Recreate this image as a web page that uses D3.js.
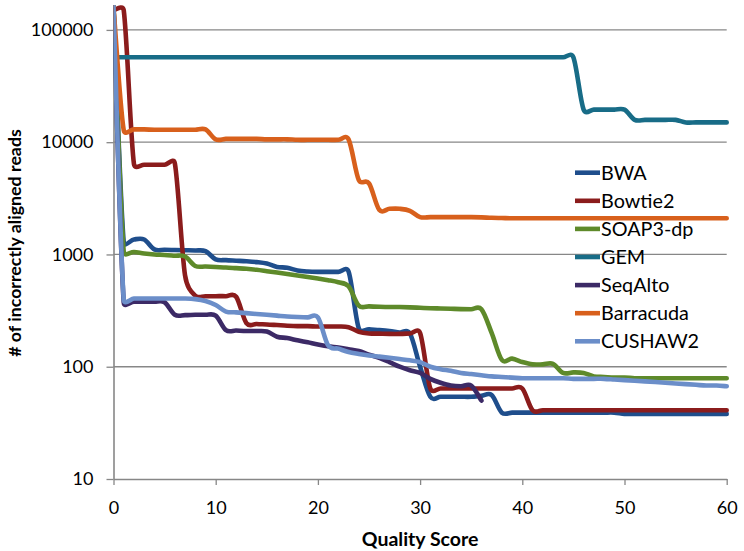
<!DOCTYPE html>
<html>
<head>
<meta charset="utf-8">
<script src="https://cdn.jsdelivr.net/npm/d3@7"></script>
<style>
  html, body { margin: 0; padding: 0; background: #fff; }
  svg { display: block; font-family: Lato, "Open Sans", sans-serif; }
</style>
</head>
<body>
<svg id="chart" width="744" height="551"></svg>
<script>
// ---- data ----
const qualityScores = d3.range(0, 61);
const seriesNames = ["BWA", "Bowtie2", "SOAP3-dp", "GEM", "SeqAlto", "Barracuda", "CUSHAW2"];
const seriesColors = ["#1f4e8c", "#8b1c1c", "#5e8a2a", "#186c87", "#3c2a66", "#d8601c", "#6b8ec9"];

const bwa = [160000, 1290, 1360, 1360, 1110, 1100, 1095, 1090, 1085, 1070,
  905, 890, 880, 870, 855, 830, 775, 760, 720, 705,
  700, 700, 700, 705, 220, 215, 212, 208, 202, 198,
  100, 54, 54, 54, 54, 54, 55, 56, 39, 39,
  39, 39, 39, 39, 39, 39, 39, 39, 39, 39,
  38, 38, 38, 38, 38, 38, 38, 38, 38, 38, 38];
const bowtie2 = [150000, 150000, 6400, 6300, 6300, 6300, 6500, 650, 430, 425,
  425, 425, 420, 245, 240, 238, 235, 232, 230, 230,
  228, 228, 228, 225, 205, 198, 197, 196, 196, 198,
  200, 64, 64, 64, 64, 64, 64, 64, 64, 64,
  64, 41, 41, 41, 41, 41, 41, 41, 41, 41,
  41, 41, 41, 41, 41, 41, 41, 41, 41, 41, 41];
const soap3dp = [160000, 1060, 1050, 1020, 1000, 990, 975, 960, 790, 780,
  772, 765, 755, 745, 730, 710, 690, 670, 650, 630,
  610, 590, 565, 520, 350, 345, 342, 340, 340, 338,
  335, 332, 330, 328, 326, 325, 325, 200, 115, 118,
  110, 105, 105, 106, 88, 89, 88, 82, 81, 80,
  80, 79, 79, 79, 79, 79, 79, 79, 79, 79, 79];
const gem = [57000, 57000, 57000, 57000, 57000, 57000, 57000, 57000, 57000, 57000,
  57000, 57000, 57000, 57000, 57000, 57000, 57000, 57000, 57000, 57000,
  57000, 57000, 57000, 57000, 57000, 57000, 57000, 57000, 57000, 57000,
  57000, 57000, 57000, 57000, 57000, 57000, 57000, 57000, 57000, 57000,
  57000, 57000, 57000, 57000, 57000, 57000, 19500, 19500, 19500, 19500,
  19500, 15800, 15800, 15800, 15800, 15800, 15000, 15000, 15000, 15000, 15000];
const seqAlto = [160000, 375, 380, 380, 380, 375, 290, 288, 290, 290,
  285, 212, 210, 208, 208, 206, 185, 180, 172, 165,
  158, 152, 148, 143, 138, 128, 120, 110, 100, 93,
  88, 78, 72, 68, 67, 68, 50];
const barracuda = [160000, 12800, 13000, 13000, 12900, 12900, 12900, 12900, 12900, 13000,
  10600, 10700, 10700, 10700, 10700, 10600, 10600, 10600, 10500, 10500,
  10500, 10500, 10500, 10600, 4600, 4300, 2500, 2550, 2550, 2450,
  2150, 2150, 2150, 2150, 2150, 2150, 2140, 2120, 2110, 2100,
  2100, 2100, 2100, 2100, 2100, 2100, 2100, 2100, 2100, 2100,
  2100, 2100, 2100, 2100, 2100, 2100, 2100, 2100, 2100, 2100, 2100];
const cushaw2 = [160000, 395, 405, 405, 405, 405, 405, 405, 400, 385,
  355, 310, 305, 300, 295, 290, 285, 280, 277, 275,
  275, 155, 145, 135, 130, 126, 123, 120, 117, 114,
  110, 100, 95, 92, 88, 86, 84, 82, 81, 80,
  79, 79, 79, 79, 79, 78, 78, 78, 78, 77,
  76, 75, 74, 73, 72, 71, 70, 69, 68, 68, 67];

const seriesValues = [bwa, bowtie2, soap3dp, gem, seqAlto, barracuda, cushaw2];
const yTicks = [10, 100, 1000, 10000, 100000];
const xTicks = [0, 10, 20, 30, 40, 50, 60];
const xTitle = "Quality Score";
const yTitle = "# of incorrectly aligned reads";

// ---- layout ----
const svg = d3.select("#chart");
const x = d3.scaleLinear().domain([0, 60]).range([113.5, 726.7]);
const y = d3.scaleLog().domain([10, 160000]).range([479, 7]);
const gridColor = "#878787";

svg.append("defs").append("clipPath").attr("id", "plotclip")
  .append("rect").attr("x", x(0)).attr("y", y(160000) - 2)
  .attr("width", x(60) - x(0) + 4).attr("height", y(10) - y(160000) + 2);

// gridlines
svg.append("g").selectAll("line")
  .data(yTicks.filter(d => d > 10))
  .join("line")
  .attr("x1", x(0)).attr("x2", x(60))
  .attr("y1", d => y(d)).attr("y2", d => y(d))
  .attr("stroke", gridColor).attr("stroke-width", 1.3);

// axes
const yAxis = d3.axisLeft(y).tickValues(yTicks).tickFormat(d3.format("d"))
  .tickSize(7).tickSizeOuter(0).tickPadding(13);
const gy = svg.append("g").attr("transform", `translate(${x(0)},0)`).call(yAxis);
const xAxis = d3.axisBottom(x).tickValues(xTicks).tickFormat(d3.format("d"))
  .tickSize(6).tickSizeOuter(0).tickPadding(16);
const gx = svg.append("g").attr("transform", `translate(0,${y(10)})`).call(xAxis);
[gx, gy].forEach(g => {
  g.select(".domain").attr("stroke", gridColor).attr("stroke-width", 1.6);
  g.selectAll(".tick line").attr("stroke", gridColor).attr("stroke-width", 1.3);
  g.selectAll(".tick text").attr("fill", "#000").style("font-size", "18px")
    .style("font-family", "Lato, sans-serif");
});

// smoothed line (Catmull-Rom style, control handles limited by segment length)
function smoothPath(values) {
  const p = values.map((v, i) => [x(qualityScores[i]), y(v)]);
  const n = p.length;
  const tan = p.map((pt, i) => {
    const a = p[Math.max(0, i - 1)], b = p[Math.min(n - 1, i + 1)];
    return [(b[0] - a[0]) / 6, (b[1] - a[1]) / 6];
  });
  const limit = (v, len) => {
    const l = Math.hypot(v[0], v[1]);
    const m = 0.6 * len;
    return l > m && l > 0 ? [v[0] * m / l, v[1] * m / l] : v;
  };
  const path = d3.path();
  path.moveTo(p[0][0], p[0][1]);
  for (let i = 0; i < n - 1; i++) {
    const a = p[i], b = p[i + 1];
    const len = Math.hypot(b[0] - a[0], b[1] - a[1]);
    const c1 = limit(tan[i], len), c2 = limit(tan[i + 1], len);
    path.bezierCurveTo(a[0] + c1[0], a[1] + c1[1], b[0] - c2[0], b[1] - c2[1], b[0], b[1]);
  }
  return path.toString();
}

svg.append("g").attr("clip-path", "url(#plotclip)")
  .selectAll("path")
  .data(seriesValues)
  .join("path")
  .attr("d", d => smoothPath(d))
  .attr("fill", "none")
  .attr("stroke", (d, i) => seriesColors[i])
  .attr("stroke-width", 4.6)
  .attr("stroke-linejoin", "round")
  .attr("stroke-linecap", "round");

// legend
const legend = svg.append("g");
const legendY0 = 172.7, legendStep = 28.1;
seriesNames.forEach((name, i) => {
  const ly = legendY0 + i * legendStep;
  legend.append("line")
    .attr("x1", 575).attr("x2", 600).attr("y1", ly).attr("y2", ly)
    .attr("stroke", seriesColors[i]).attr("stroke-width", 4.6);
  legend.append("text")
    .attr("x", 601).attr("y", ly).attr("dy", "0.36em")
    .style("font-size", "19.8px").attr("fill", "#000")
    .text(name);
});

// axis titles
svg.append("text")
  .attr("x", x(30)).attr("y", 539).attr("dy", "0.36em")
  .attr("text-anchor", "middle")
  .style("font-size", "19.5px").style("font-weight", "bold")
  .text(xTitle);
svg.append("text")
  .attr("transform", "translate(15,243) rotate(-90)")
  .attr("dy", "0.36em")
  .attr("text-anchor", "middle")
  .style("font-size", "17.8px").style("font-weight", "bold")
  .text(yTitle);
</script>
</body>
</html>
